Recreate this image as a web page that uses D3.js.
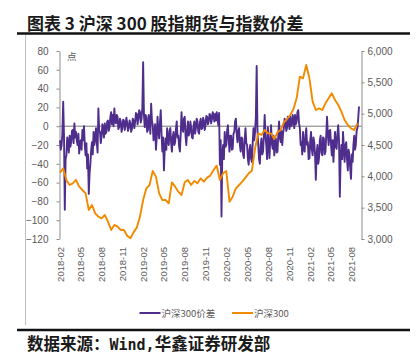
<!DOCTYPE html>
<html>
<head>
<meta charset="utf-8">
<script src="https://cdn.jsdelivr.net/npm/d3@7"></script>
<style>
  html, body { margin: 0; padding: 0; background: #fff; }
  svg { display: block; }
</style>
</head>
<body>
<svg id="chart" width="417" height="357"></svg>
<script>
// ---------- data ----------
const titleText = "图表 3 沪深 300 股指期货与指数价差";
const unitLabel = "点";
const sourceLabel = "数据来源：";
const sourceWind = "Wind,";
const sourceOrg = "华鑫证券研发部";
const seriesNames = ["沪深300价差", "沪深300"];
const startDate = "2018-02-01";

// basis (futures minus index), points — read twice a week (every 3.5 days)
const basisHalfWeekly = [
  -15, -25, -20, -8, 26, -10, -89, -35, -31, -12, -17, -28, -10, -22, -17, -5, -4, -18, 3, -12,
  -6, -15, -20, -8, -29, -18, -15, -25, -4, -15, 0, -20, -31, -18, -45, -30, -72, -50, -40, -25,
  -17, -30, -6, -20, -13, -2, -17, -28, 19, -5, -6, -18, -11, 2, -1, -12, 3, -8, -6, 5,
  6, -5, -1, 10, 15, 2, 12, 0, 19, 5, 3, 12, 10, -3, -1, 8, 5, -6, -2, 7,
  6, -4, 1, 9, 4, -5, -2, 6, 3, -6, -3, 8, 6, -2, 5, 14, 13, 2, 8, 17,
  15, 4, 8, 20, 68, 12, -1, 12, 10, -6, -4, 12, 5, -8, 24, 6, 1, -15, -10, 2,
  -25, -12, 10, -5, -13, 3, 17, -8, -27, -12, -47, -25, -13, -25, -2, -15, -20, -5, -2, -18,
  -27, -12, -6, -20, -17, -3, 5, -12, -10, -22, -27, -8, 15, -2, -6, 8, 10, -10, -20, -5,
  5, -10, -7, 5, -1, -12, -13, 0, 5, -8, -2, 8, 5, -6, -8, 4, 8, -3, -2, 9,
  6, -4, 1, 11, 10, 2, 5, 13, 12, 3, 7, 15, 12, 5, 13, 6, 15, 8, 1, 14,
  -41, -15, -96, -30, -20, -35, -6, -22, -20, -5, 1, -15, -27, -10, -10, -25, -24, -8, -6, 5,
  8, -8, -17, -5, -2, -20, -27, -12, -13, -30, -34, -15, -2, -18, -20, -35, -41, -25, -20, -35,
  -38, -18, -2, -15, -6, 10, 64, -5, -20, -35, -40, -20, -13, -30, -27, -10, 12, -10, -20, -35,
  -1, -20, -34, -15, 1, -18, -24, -10, -31, -18, -13, -28, -27, -10, 5, -12, -17, -5, -20, -8,
  -2, 8, 5, -5, -2, 10, 6, -3, 10, 0, 1, 12, 8, -2, 12, 2, 5, 15, 17, 3,
  -2, -20, -17, -30, -6, -25, -27, -10, -2, -20, -17, -35, -34, -15, -6, -25, -31, -12, -17, -30,
  -57, -30, -20, -40, -34, -15, -10, -28, -31, -12, -13, -30, -27, -10, 10, -8, -20, -5, -4, -20,
  -31, -15, -38, -20, -6, -22, -24, -8, 1, -15, -75, -35, -20, -35, -6, -22, -38, -20, -17, -35,
  -47, -25, -31, -45, -56, -30, -38, -20, -10, -25, -20, -5, -2, 8, 21
];

// CSI 300 index level — read every two weeks
const indexBiweekly = [
  4059, 4128, 3942, 3862, 3888, 3942, 3835, 3782, 3729, 3463,
  3543, 3410, 3357, 3330, 3383, 3277, 3144, 3224, 3197, 3144,
  3144, 3053, 3011, 3106, 3181, 3357, 3622, 3809, 3862, 4085,
  3995, 3729, 3622, 3622, 3569, 3904, 3835, 3755, 3702, 3904,
  3942, 3862, 3926, 3888, 3968, 3915, 3979, 4011, 4101, 4170,
  3942, 4048, 4085, 3596, 3676, 3809, 3862, 3915, 3979, 4048,
  4090, 4447, 4686, 4660, 4739, 4686, 4686, 4596, 4702, 4739,
  4862, 4915, 4979, 5074, 5245, 5590, 5564, 5777, 5564, 5191,
  5058, 5085, 5058, 5165, 5245, 5325, 5218, 5138, 5032, 4899,
  4819, 4766, 4739, 4846
];

const xTickLabels = [
  "2018-02", "2018-05", "2018-08", "2018-11", "2019-02", "2019-05", "2019-08",
  "2019-11", "2020-02", "2020-05", "2020-08", "2020-11", "2021-02", "2021-05", "2021-08"
];
const leftTicks = [80, 60, 40, 20, 0, -20, -40, -60, -80, -100, -120];
const rightTicks = [6000, 5500, 5000, 4500, 4000, 3500, 3000];

// ---------- drawing ----------
const svg = d3.select("#chart");
const purple = "#4f2d8c";
const orange = "#f18a00";
const axisGray = "#8c8c8c";
const textGray = "#595959";
const cjk = "'Noto Sans CJK SC', 'Noto Sans', sans-serif";
const num = "'Liberation Sans', Arial, sans-serif";

const parse = d3.timeParse("%Y-%m-%d");
const parseMonth = d3.timeParse("%Y-%m");
const t0 = parse(startDate);
const day = 24 * 3600 * 1000;

const basisData = basisHalfWeekly.map((v, i) => ({ date: new Date(t0.getTime() + i * 3.5 * day), v }));
const indexData = indexBiweekly.map((v, i) => ({ date: new Date(t0.getTime() + i * 14 * day), v }));

const x = d3.scaleTime()
  .domain([parseMonth(xTickLabels[0]), parseMonth(xTickLabels[xTickLabels.length - 1])])
  .range([60, 351.7]);
const yL = d3.scaleLinear().domain([-120, 80]).range([239, 51]);
const yR = d3.scaleLinear().domain([3000, 6000]).range([239, 51]);

// frame: title rule, left border, bottom rule
svg.append("line").attr("x1", 17).attr("x2", 410).attr("y1", 33.5).attr("y2", 33.5)
  .attr("stroke", "#111").attr("stroke-width", 2.5);
svg.append("line").attr("x1", 25.5).attr("x2", 25.5).attr("y1", 35).attr("y2", 325)
  .attr("stroke", "#bfbfbf").attr("stroke-width", 1);
svg.append("line").attr("x1", 17).attr("x2", 410).attr("y1", 330).attr("y2", 330)
  .attr("stroke", "#111").attr("stroke-width", 2.5);

// title
svg.append("text").attr("x", 27).attr("y", 30)
  .attr("font-family", cjk).attr("font-size", 17).attr("font-weight", 700)
  .attr("fill", "#1a1a1a").text(titleText);

// source
const src = svg.append("text").attr("x", 27).attr("y", 349.5)
  .attr("font-family", cjk).attr("font-size", 16.5).attr("font-weight", 700).attr("fill", "#1a1a1a");
src.append("tspan").text(sourceLabel);
src.append("tspan").attr("font-family", "'DejaVu Sans Mono', 'Liberation Mono', monospace")
  .attr("font-size", 15).text(sourceWind);
src.append("tspan").text(sourceOrg);

// left axis
const gL = svg.append("g").attr("transform", "translate(59.5,0)")
  .call(d3.axisLeft(yL).tickValues(leftTicks).tickSize(3).tickSizeOuter(0));
gL.select(".domain").attr("stroke", axisGray);
gL.selectAll(".tick line").attr("stroke", axisGray);
gL.selectAll(".tick text").attr("x", -11).attr("fill", textGray)
  .attr("font-family", num).attr("font-size", 10);

// right axis
const gR = svg.append("g").attr("transform", "translate(361.5,0)")
  .call(d3.axisRight(yR).tickValues(rightTicks).tickSize(3).tickSizeOuter(0).tickFormat(d3.format(",")));
gR.select(".domain").attr("stroke", axisGray);
gR.selectAll(".tick line").attr("stroke", axisGray);
gR.selectAll(".tick text").attr("x", 6).attr("fill", textGray)
  .attr("font-family", num).attr("font-size", 10);

// unit label
svg.append("text").attr("x", 67).attr("y", 60).attr("font-family", cjk)
  .attr("font-size", 9.5).attr("fill", textGray).text(unitLabel);

// zero line
svg.append("line").attr("x1", 59.5).attr("x2", 361.5).attr("y1", yL(0)).attr("y2", yL(0))
  .attr("stroke", "#7a7a7a").attr("stroke-width", 1);

// x tick labels (rotated)
svg.append("g").selectAll("text").data(xTickLabels).join("text")
  .attr("transform", d => `translate(${x(parseMonth(d)) + 3.5},247) rotate(-90)`)
  .attr("text-anchor", "end")
  .attr("font-family", num).attr("font-size", 9.5).attr("fill", textGray)
  .text(d => d);

// series
const lineL = d3.line().x(d => x(d.date)).y(d => yL(d.v));
const lineR = d3.line().x(d => x(d.date)).y(d => yR(d.v));
svg.append("path").datum(basisData).attr("d", lineL)
  .attr("fill", "none").attr("stroke", purple).attr("stroke-width", 1.9).attr("stroke-linejoin", "round");
svg.append("path").datum(indexData).attr("d", lineR)
  .attr("fill", "none").attr("stroke", orange).attr("stroke-width", 1.9).attr("stroke-linejoin", "round");

// legend
const legendItems = [
  { name: seriesNames[0], color: purple, x: 139.5 },
  { name: seriesNames[1], color: orange, x: 232 }
];
const lg = svg.append("g").selectAll("g").data(legendItems).join("g")
  .attr("transform", d => `translate(${d.x},313)`);
lg.append("line").attr("x1", 0).attr("x2", 21).attr("y1", 0).attr("y2", 0)
  .attr("stroke", d => d.color).attr("stroke-width", 2);
lg.append("text").attr("x", 22).attr("y", 3.5).attr("font-family", cjk)
  .attr("font-size", 9.5).attr("fill", textGray).text(d => d.name);
</script>
</body>
</html>
